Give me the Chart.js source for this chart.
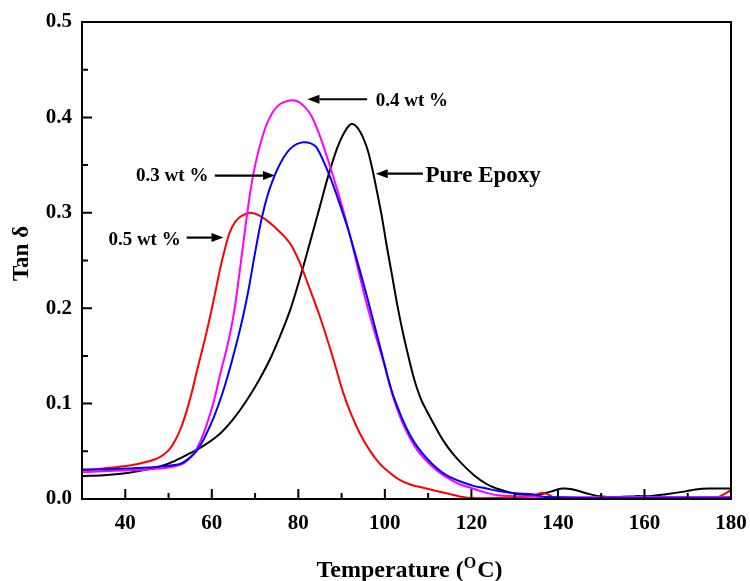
<!DOCTYPE html>
<html>
<head>
<meta charset="utf-8">
<title>Tan δ vs Temperature</title>
<script src="https://cdn.jsdelivr.net/npm/chart.js@4.4.1/dist/chart.umd.min.js"></script>
<style>
  html, body { margin: 0; padding: 0; background: #fff; }
  #wrap { width: 750px; height: 581px; }
</style>
</head>
<body>
<div id="wrap"><canvas id="tanChart" width="750" height="581"></canvas></div>
<script>
/* DATA : temperature (°C) and tan delta for each sample */
const pureTemp = [30, 35, 40, 44, 48, 51.5, 55, 58.5, 62, 65, 68, 70.7, 73.4, 75.8, 78.1, 80.4, 82.7, 85, 87, 89,
  90.6, 92.3, 94, 95.8, 97, 98.1, 99.3, 100.4, 101.6, 102.8, 104, 105.3, 106.5, 107.5, 108.5, 109.6, 111.5, 113.4, 115.6, 118,
  120.6, 123.4, 125.8, 128, 131, 134, 136, 138.5, 141, 143.5, 146.5, 149.5, 154, 158, 161, 165, 169.5, 171.8, 175, 180];
const pureTan = [0.024, 0.025, 0.027, 0.030, 0.034, 0.040, 0.048, 0.057, 0.069, 0.084, 0.103, 0.123, 0.146, 0.171, 0.198, 0.232, 0.269, 0.307, 0.340, 0.368,
  0.384, 0.393, 0.387, 0.369, 0.348, 0.324, 0.296, 0.266, 0.236, 0.205, 0.178, 0.152, 0.130, 0.115, 0.103, 0.093, 0.077, 0.062, 0.048, 0.036,
  0.025, 0.016, 0.011, 0.008, 0.005, 0.004, 0.005, 0.008, 0.011, 0.010, 0.006, 0.003, 0.002, 0.003, 0.003, 0.005, 0.008, 0.010, 0.011, 0.011];

const wt05Temp = [30, 35, 41, 45, 48, 50, 51.5, 53, 54.3, 55.5, 56.6, 58, 59, 60.5, 62, 63.2, 64.2, 65.5, 67, 69,
  71, 73, 75, 77, 78.5, 80.4, 82.5, 85, 88, 90.4, 92.2, 94.2, 96.5, 98.8, 101, 103.4, 106, 109.6, 114.2, 118,
  120, 125, 130, 134, 136.4, 138, 139.5, 145, 160, 170, 176.4, 178, 180];
const wt05Tan = [0.030, 0.032, 0.035, 0.039, 0.044, 0.051, 0.061, 0.076, 0.094, 0.114, 0.135, 0.160, 0.179, 0.210, 0.243, 0.265, 0.280, 0.291, 0.297, 0.300,
  0.297, 0.291, 0.283, 0.274, 0.265, 0.247, 0.222, 0.191, 0.148, 0.111, 0.089, 0.069, 0.051, 0.037, 0.028, 0.020, 0.015, 0.011, 0.006, 0.002,
  0.001, 0.001, 0.002, 0.003, 0.0066, 0.004, 0.001, 0.001, 0.001, 0.001, 0.001, 0.004, 0.0094];

const wt04Temp = [30, 35, 40, 45, 50, 52.8, 54.5, 55.9, 57.5, 58.9, 60.5, 62, 63.2, 64.3, 65.3, 66.2, 67, 68, 68.9, 69.8,
  70.8, 71.8, 72.8, 74.3, 75.8, 77.3, 78.9, 80.5, 82.7, 84.6, 86.6, 89, 91.2, 92.7, 95.6, 97.5, 99.6, 101.9, 103.8, 105.8,
  107.7, 109.6, 112, 114.2, 117, 120.3, 123, 126, 130, 140, 160, 180];
const wt04Tan = [0.028, 0.029, 0.030, 0.031, 0.033, 0.036, 0.041, 0.048, 0.062, 0.079, 0.103, 0.132, 0.153, 0.175, 0.200, 0.230, 0.258, 0.293, 0.322, 0.345,
  0.365, 0.381, 0.394, 0.407, 0.414, 0.417, 0.418, 0.415, 0.404, 0.385, 0.359, 0.324, 0.289, 0.262, 0.208, 0.177, 0.145, 0.107, 0.083, 0.064,
  0.050, 0.040, 0.030, 0.023, 0.016, 0.011, 0.007, 0.004, 0.003, 0.002, 0.002, 0.002];

const wt03Temp = [30, 35, 40, 45, 48.2, 52.8, 54.8, 56.6, 58.5, 60.5, 62.4, 64.3, 66.2, 67.1, 68, 68.8, 69.6, 70.4, 71.2, 72.1,
  73, 74, 75.1, 76.6, 78.1, 79.6, 81.2, 82.7, 84.3, 87.3, 89.2, 91.2, 92.7, 96, 99.6, 101.9, 105.8, 109.6, 114.2, 120.3,
  123.5, 126.5, 130, 134.1, 137.2, 145, 160, 180];
const wt03Tan = [0.031, 0.031, 0.032, 0.033, 0.034, 0.037, 0.043, 0.051, 0.066, 0.086, 0.110, 0.139, 0.172, 0.189, 0.208, 0.227, 0.248, 0.268, 0.287, 0.305,
  0.320, 0.333, 0.345, 0.358, 0.367, 0.372, 0.374, 0.373, 0.368, 0.338, 0.314, 0.287, 0.264, 0.210, 0.147, 0.109, 0.067, 0.043, 0.025, 0.014,
  0.011, 0.008, 0.006, 0.005, 0.002, 0.001, 0.001, 0.001];

/* AXIS TICKS */
const xTicks = [40, 60, 80, 100, 120, 140, 160, 180];
const yTicks = [0, 0.1, 0.2, 0.3, 0.4, 0.5];

const FONT = "'Liberation Serif', 'Times New Roman', serif";

const toPoints = (xs, ys) => xs.map((t, i) => ({ x: t, y: ys[i] }));

/* LABELS WITH ARROWS (data units) */
const notes = [
  { text: "0.4 wt %", size: 19, at: [97.9, 0.4175], from: [95.9, 0.419], to: [82.1, 0.419] },
  { text: "Pure Epoxy", size: 23, at: [109.4, 0.339], from: [108.8, 0.341], to: [97.9, 0.341] },
  { text: "0.3 wt %", size: 19, at: [42.5, 0.338], from: [60.7, 0.339], to: [74.6, 0.339] },
  { text: "0.5 wt %", size: 19, at: [36.1, 0.2715], from: [54.2, 0.274], to: [62.7, 0.274] },
];

function arrow(ctx, x1, y1, x2, y2) {
  const ang = Math.atan2(y2 - y1, x2 - x1);
  const head = 12;
  const bx = x2 - head * Math.cos(ang);
  const by = y2 - head * Math.sin(ang);
  ctx.beginPath();
  ctx.moveTo(x1, y1);
  ctx.lineTo(bx, by);
  ctx.stroke();
  ctx.beginPath();
  ctx.moveTo(x2, y2);
  ctx.lineTo(bx - 4.5 * Math.sin(ang), by + 4.5 * Math.cos(ang));
  ctx.lineTo(bx + 4.5 * Math.sin(ang), by - 4.5 * Math.cos(ang));
  ctx.closePath();
  ctx.fill();
}

/* FRAME, INWARD TICKS, AXIS TITLES, NOTES */
const decor = {
  id: "decor",
  afterDraw(chart) {
    const { ctx, chartArea: a, scales: { x, y } } = chart;
    ctx.save();
    ctx.strokeStyle = "#000";
    ctx.fillStyle = "#000";
    ctx.lineWidth = 2;
    ctx.strokeRect(a.left, a.top, a.right - a.left, a.bottom - a.top);

    const xMinor = xTicks.slice(1).map((v, i) => (v + xTicks[i]) / 2);
    const yMinor = yTicks.slice(1).map((v, i) => (v + yTicks[i]) / 2);
    ctx.beginPath();
    xTicks.forEach((v) => { const px = x.getPixelForValue(v); ctx.moveTo(px, a.bottom); ctx.lineTo(px, a.bottom - 10); });
    xMinor.forEach((v) => { const px = x.getPixelForValue(v); ctx.moveTo(px, a.bottom); ctx.lineTo(px, a.bottom - 6); });
    yTicks.forEach((v) => { const py = y.getPixelForValue(v); ctx.moveTo(a.left, py); ctx.lineTo(a.left + 10, py); });
    yMinor.forEach((v) => { const py = y.getPixelForValue(v); ctx.moveTo(a.left, py); ctx.lineTo(a.left + 6, py); });
    ctx.stroke();

    // y title
    ctx.save();
    ctx.translate(22, (a.top + a.bottom) / 2 - 7);
    ctx.rotate(-Math.PI / 2);
    ctx.font = `bold 23px ${FONT}`;
    ctx.textAlign = "center";
    ctx.textBaseline = "middle";
    ctx.fillText("Tan δ", 0, 0);
    ctx.restore();

    // x title with superscript O
    const base = a.bottom + 78;
    const part1 = "Temperature (";
    const sup = "O";
    const part2 = "C)";
    ctx.textBaseline = "alphabetic";
    ctx.textAlign = "left";
    ctx.font = `bold 24px ${FONT}`;
    const w1 = ctx.measureText(part1).width;
    const w3 = ctx.measureText(part2).width;
    ctx.font = `bold 16px ${FONT}`;
    const w2 = ctx.measureText(sup).width;
    const sx = (a.left + a.right) / 2 + 3 - (w1 + w2 + w3 + 1) / 2;
    ctx.font = `bold 24px ${FONT}`;
    ctx.fillText(part1, sx, base);
    ctx.font = `bold 16px ${FONT}`;
    ctx.fillText(sup, sx + w1, base - 9);
    ctx.font = `bold 24px ${FONT}`;
    ctx.fillText(part2, sx + w1 + w2 + 1, base);

    // notes
    ctx.lineWidth = 2.2;
    ctx.textBaseline = "middle";
    notes.forEach((n) => {
      ctx.font = `bold ${n.size}px ${FONT}`;
      ctx.fillText(n.text, x.getPixelForValue(n.at[0]), y.getPixelForValue(n.at[1]));
      arrow(ctx,
        x.getPixelForValue(n.from[0]), y.getPixelForValue(n.from[1]),
        x.getPixelForValue(n.to[0]), y.getPixelForValue(n.to[1]));
    });
    ctx.restore();
  },
};

Chart.defaults.font.family = FONT;
Chart.defaults.color = "#000";

const line = (data, color) => ({
  data,
  borderColor: color,
  borderWidth: 2,
  pointRadius: 0,
  fill: false,
  tension: 0.35,
});

// keep tick labels from pushing the plot area inward
const noOverflow = (s) => {
  s.paddingLeft = 0;
  s.paddingRight = 0;
  s.paddingTop = 0;
  s.paddingBottom = 0;
};

new Chart(document.getElementById("tanChart"), {
  type: "line",
  data: {
    datasets: [
      line(toPoints(wt03Temp, wt03Tan), "#0000ff"),
      line(toPoints(wt04Temp, wt04Tan), "#ff00ff"),
      line(toPoints(wt05Temp, wt05Tan), "#ff0000"),
      line(toPoints(pureTemp, pureTan), "#000000"),
    ],
  },
  options: {
    responsive: false,
    animation: false,
    devicePixelRatio: 1,
    layout: { padding: { top: 22, right: 19, left: 0, bottom: 0 } },
    plugins: { legend: { display: false }, tooltip: { enabled: false } },
    scales: {
      x: {
        type: "linear",
        min: 30,
        max: 180,
        grid: { display: false, drawTicks: false },
        border: { display: false },
        afterBuildTicks: (s) => { s.ticks = xTicks.map((v) => ({ value: v })); },
        afterFit: (s) => { s.height = 82; noOverflow(s); },
        ticks: { font: { size: 21, weight: "bold" }, padding: 12, maxRotation: 0 },
      },
      y: {
        min: 0,
        max: 0.5,
        grid: { display: false, drawTicks: false },
        border: { display: false },
        afterBuildTicks: (s) => { s.ticks = yTicks.map((v) => ({ value: v })); },
        afterFit: (s) => { s.width = 82; noOverflow(s); },
        ticks: { font: { size: 21, weight: "bold" }, padding: 10, callback: (v) => v.toFixed(1) },
      },
    },
  },
  plugins: [decor],
});
</script>
</body>
</html>
